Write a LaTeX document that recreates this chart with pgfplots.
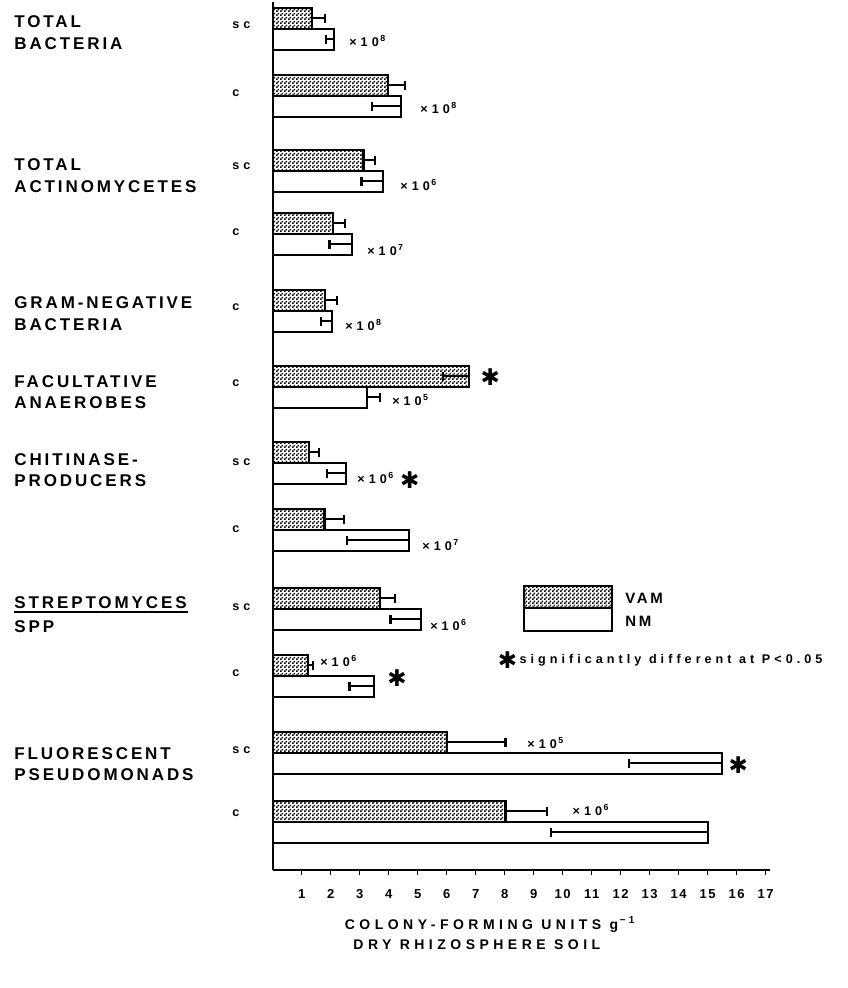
\documentclass[border=0pt]{standalone}
\usepackage{fontspec}
\setmainfont{Liberation Sans}
\newfontfamily\gfont[LetterSpace=17]{Liberation Sans}
\newfontfamily\sfont[LetterSpace=32]{Liberation Sans}
\newfontfamily\tfont[LetterSpace=12]{Liberation Sans}
\newfontfamily\dvfont{DejaVu Sans}
\usepackage{pgfplots}
\pgfplotsset{compat=1.18}
\usetikzlibrary{patterns}
\pgfdeclarepatternformonly{stipple}{\pgfpointorigin}{\pgfqpoint{2pt}{2pt}}{\pgfqpoint{2pt}{2pt}}{%
 \pgfpathrectangle{\pgfpointorigin}{\pgfqpoint{1pt}{1pt}}%
 \pgfpathrectangle{\pgfqpoint{1pt}{1pt}}{\pgfqpoint{1pt}{1pt}}%
 \pgfusepath{fill}}
\newcommand{\G}{\gfont\fontsize{8.5}{10}\selectfont\bfseries}
\newcommand{\SF}{\sfont\fontsize{6.3}{8}\selectfont\bfseries}
\newcommand{\LF}{\sfont\fontsize{7}{8}\selectfont\bfseries}
\newcommand{\TF}{\tfont\fontsize{6.5}{8}\selectfont\bfseries}
\newcommand{\STAR}{{\dvfont\fontsize{11.5}{12}\selectfont ✱}}
\newcommand{\mult}[1]{×10\textsuperscript{\,#1}}
\begin{document}
\begin{tikzpicture}
\begin{axis}[
  scale only axis,
  width=248.675pt, height=434pt,
  xmin=0, xmax=17.15, ymin=-870, ymax=-2,
  clip=false,
  axis x line=bottom, axis y line=left,
  axis line style={-, line width=1pt, black},
  xtick={1,...,17},
  xticklabels={1,2,3,4,5,6,7,8,9,10,11,12,13,14,15,16,17},
  ytick=\empty,
  tick align=outside,
  major tick length=2.5pt,
  every tick/.style={black, line width=0.7pt},
  xticklabel style={font=\TF, anchor=north, inner sep=0pt, yshift=-7pt},
]
% VAM bars
\addplot[xbar, bar shift=0pt, bar width=21, draw=black, line width=1.1pt, pattern=stipple, pattern color=black]
coordinates {(1.35,-18.5) (3.98,-85.5) (3.13,-160.5) (2.08,-223.5) (1.81,-300.5) (6.77,-376.5)
 (1.26,-452.5) (1.79,-519.5) (3.69,-598.5) (1.23,-665.5) (6.02,-742.5) (8.03,-811.5)};
% NM bars
\addplot[xbar, bar shift=0pt, bar width=21, draw=black, line width=1pt, fill=white]
coordinates {(2.13,-39.5) (4.44,-106.5) (3.80,-181.5) (2.75,-244.5) (2.04,-321.5) (3.25,-397.5)
 (2.53,-473.5) (4.69,-540.5) (5.12,-619.5) (3.50,-686.5) (15.48,-763.5) (15.0,-832.5)};
% error bars pointing right
\addplot[draw=none, mark=none, forget plot, error bars/.cd, x dir=plus, x explicit, error mark=|,
  error bar style={draw=black, line width=1pt},
  error mark options={draw=black, line width=1.1pt, mark size=2.1pt}]
coordinates {(1.35,-18.5)+-(0.46,0) (3.98,-85.5)+-(0.57,0) (3.13,-160.5)+-(0.41,0) (2.08,-223.5)+-(0.40,0)
 (1.81,-300.5)+-(0.40,0) (1.26,-452.5)+-(0.35,0) (1.79,-519.5)+-(0.68,0) (3.69,-598.5)+-(0.53,0)
 (1.23,-665.5)+-(0.17,0) (6.02,-742.5)+-(2.01,0) (8.03,-811.5)+-(1.44,0) (3.25,-397.5)+-(0.46,0)};
% error bars pointing left (inside bars)
\addplot[draw=none, mark=none, forget plot, error bars/.cd, x dir=minus, x explicit, error mark=|,
  error bar style={draw=black, line width=1pt},
  error mark options={draw=black, line width=1.1pt, mark size=2.1pt}]
coordinates {(2.13,-39.5)+-(0.28,0) (4.44,-106.5)+-(1.01,0) (3.80,-181.5)+-(0.74,0) (2.75,-244.5)+-(0.79,0)
 (2.04,-321.5)+-(0.38,0) (2.53,-473.5)+-(0.66,0) (4.69,-540.5)+-(2.13,0) (5.12,-619.5)+-(1.06,0)
 (3.50,-686.5)+-(0.85,0) (15.48,-763.5)+-(3.18,0) (15.0,-832.5)+-(5.4,0) (6.77,-376.5)+-(0.89,0)};

% page extent
\path (axis cs:-9.403,0) rectangle (axis cs:19.806,-988);

% group labels
\begin{scope}[every node/.style={anchor=west, inner sep=0pt}]
\node at (axis cs:-8.92,-22) {\G TOTAL};
\node at (axis cs:-8.92,-44) {\G BACTERIA};
\node at (axis cs:-8.92,-165) {\G TOTAL};
\node at (axis cs:-8.92,-187) {\G ACTINOMYCETES};
\node at (axis cs:-8.92,-303) {\G GRAM-NEGATIVE};
\node at (axis cs:-8.92,-325) {\G BACTERIA};
\node at (axis cs:-8.92,-382) {\G FACULTATIVE};
\node at (axis cs:-8.92,-403) {\G ANAEROBES};
\node at (axis cs:-8.92,-460) {\G CHITINASE-};
\node at (axis cs:-8.92,-481) {\G PRODUCERS};
\node at (axis cs:-8.92,-603) {\G STREPTOMYCES};
\node at (axis cs:-8.92,-627) {\G SPP};
\node at (axis cs:-8.92,-754) {\G FLUORESCENT};
\node at (axis cs:-8.92,-775) {\G PSEUDOMONADS};
% sc / c
\node at (axis cs:-1.403,-25) {\SF sc};
\node at (axis cs:-1.403,-93) {\SF c};
\node at (axis cs:-1.403,-166) {\SF sc};
\node at (axis cs:-1.403,-232) {\SF c};
\node at (axis cs:-1.403,-307) {\SF c};
\node at (axis cs:-1.403,-383) {\SF c};
\node at (axis cs:-1.403,-462) {\SF sc};
\node at (axis cs:-1.403,-529) {\SF c};
\node at (axis cs:-1.403,-607) {\SF sc};
\node at (axis cs:-1.403,-673) {\SF c};
\node at (axis cs:-1.403,-750) {\SF sc};
\node at (axis cs:-1.403,-813) {\SF c};
\end{scope}
\draw[line width=0.8pt] (axis cs:-8.92,-612) -- (axis cs:-2.92,-612);

% multipliers
\begin{scope}[every node/.style={anchor=base west, inner sep=0pt, font=\SF}]
\node at (axis cs:2.63,-47) {\mult{8}};
\node at (axis cs:5.08,-114) {\mult{8}};
\node at (axis cs:4.39,-191) {\mult{6}};
\node at (axis cs:3.25,-256) {\mult{7}};
\node at (axis cs:2.49,-331) {\mult{8}};
\node at (axis cs:4.11,-406) {\mult{5}};
\node at (axis cs:2.91,-484) {\mult{6}};
\node at (axis cs:5.15,-551) {\mult{7}};
\node at (axis cs:5.42,-631) {\mult{6}};
\node at (axis cs:1.63,-667) {\mult{6}};
\node at (axis cs:8.77,-749) {\mult{5}};
\node at (axis cs:10.33,-816) {\mult{6}};
\end{scope}

% stars
\node[inner sep=0pt] at (axis cs:7.50,-377) {\STAR};
\node[inner sep=0pt] at (axis cs:4.73,-480) {\STAR};
\node[inner sep=0pt] at (axis cs:4.29,-678) {\STAR};
\node[inner sep=0pt] at (axis cs:16.05,-765) {\STAR};

% legend
\draw[line width=1.1pt, pattern=stipple, pattern color=black] (axis cs:8.67,-586) rectangle (axis cs:11.70,-608);
\draw[line width=1pt, fill=white] (axis cs:8.67,-608) rectangle (axis cs:11.70,-631);
\node[anchor=west, inner sep=0pt] at (axis cs:12.15,-598) {\gfont\fontsize{7.5}{9}\selectfont\bfseries VAM};
\node[anchor=west, inner sep=0pt] at (axis cs:12.15,-621) {\gfont\fontsize{7.5}{9}\selectfont\bfseries NM};
\node[inner sep=0pt] at (axis cs:8.1,-660) {\STAR};
\node[anchor=west, inner sep=0pt] at (axis cs:8.5,-660) {\SF significantly different at P<0.05};

% x label
\node[inner sep=0pt] at (axis cs:7.5,-925) {\LF COLONY-FORMING UNITS g\textsuperscript{\,−1}};
\node[inner sep=0pt] at (axis cs:7.04,-945) {\LF DRY RHIZOSPHERE SOIL};
\end{axis}
\end{tikzpicture}
\end{document}
